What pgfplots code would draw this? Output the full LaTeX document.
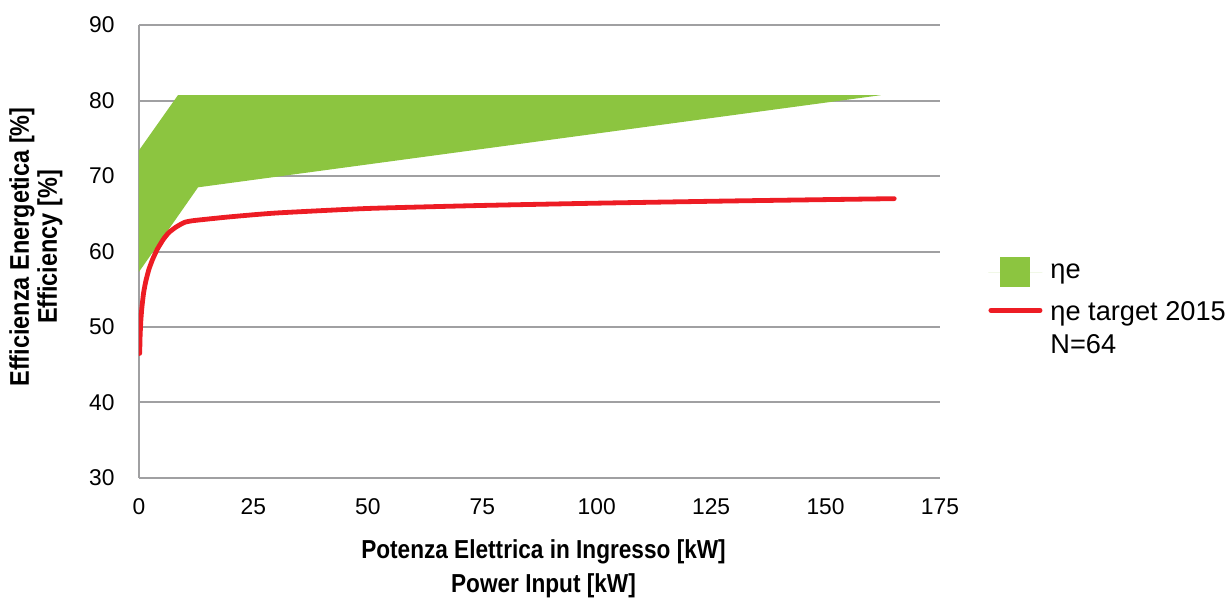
\documentclass[border=0pt]{standalone}
\usepackage{pgfplots}
\pgfplotsset{compat=1.18}
\usepackage{fontspec}
\setmainfont{Liberation Sans}
\newfontfamily\labelfont{Liberation Sans}[FakeStretch=0.87]
\definecolor{effgreen}{RGB}{140,197,64}
\definecolor{effred}{RGB}{237,28,36}
\definecolor{gridgray}{RGB}{160,160,162}
\begin{document}
\begin{tikzpicture}
\begin{axis}[
  scale only axis,
  width=400.5pt, height=226.5pt,
  at={(0,0)}, anchor=south west,
  xmin=0, xmax=175, ymin=30, ymax=90,
  xtick={0,25,...,175}, ytick={30,40,...,90},
  axis lines=left,
  axis line style={-, draw=gridgray, line width=1pt},
  major tick length=0pt,
  ymajorgrids,
  grid style={draw=gridgray, line width=1pt},
  /pgf/number format/assume math mode=true,
  ticklabel style={font=\fontsize{11.4}{13}\selectfont, inner sep=0pt},
  yticklabel style={anchor=east, xshift=-12pt},
  xticklabel style={anchor=north, yshift=-10pt},
  xlabel={Potenza Elettrica in Ingresso [kW]\\Power Input [kW]},
  ylabel={Efficienza Energetica [\%]\\Efficiency [\%]},
  every axis x label/.style={at={(axis description cs:0.505,-0.2)}, anchor=center, align=center,
    font=\labelfont\bfseries\fontsize{13}{16.7}\selectfont},
  every axis y label/.style={at={(axis description cs:-0.1286,0.51)}, anchor=center, rotate=90, align=center,
    font=\labelfont\bfseries\fontsize{13.5}{14}\selectfont},
  legend style={draw=none, fill=none, at={(axis description cs:1.06,0.488)}, anchor=north west,
    inner sep=0pt, row sep=5pt, column sep=4pt, font=\fontsize{13.6}{16.5}\selectfont,
    nodes={inner sep=0pt}},
  legend cell align=left,
]
\addplot[fill=effgreen, draw=none,
  legend image code/.code={\path (0pt,0pt) -- (27pt,0pt); \fill[effgreen] (6pt,-7.5pt) rectangle (21pt,7.5pt);}]
  coordinates {(0,73.4) (8.5,80.7) (162,80.7) (12.9,68.5) (0,57.3)};
\addlegendentry{ηe}
\addplot[effred, line width=2.4pt, line cap=round, line join=round, smooth, tension=0.3,
  legend image code/.code={\draw[effred, line width=2.5pt, line cap=round] (1.25pt,0pt) -- (25.75pt,0pt);}]
  coordinates {(0.15,46.5) (0.25,48.9) (0.4,50.8) (0.6,52.4) (1,54.5) (1.5,56.1) (2.2,57.7) (3,59.0)
    (4,60.3) (5.3,61.6) (6.5,62.5) (8,63.2) (9.9,63.85) (12,64.1) (20,64.6) (30,65.1) (50,65.7)
    (75,66.1) (100,66.4) (130,66.7) (165,67.0)};
\addlegendentry{{\begin{tabular}[t]{@{}l@{}}ηe target 2015\\N=64\end{tabular}}}
\end{axis}
\pgfresetboundingbox
\path (-69.5pt,-60pt) rectangle (546pt,239pt);
\end{tikzpicture}
\end{document}
